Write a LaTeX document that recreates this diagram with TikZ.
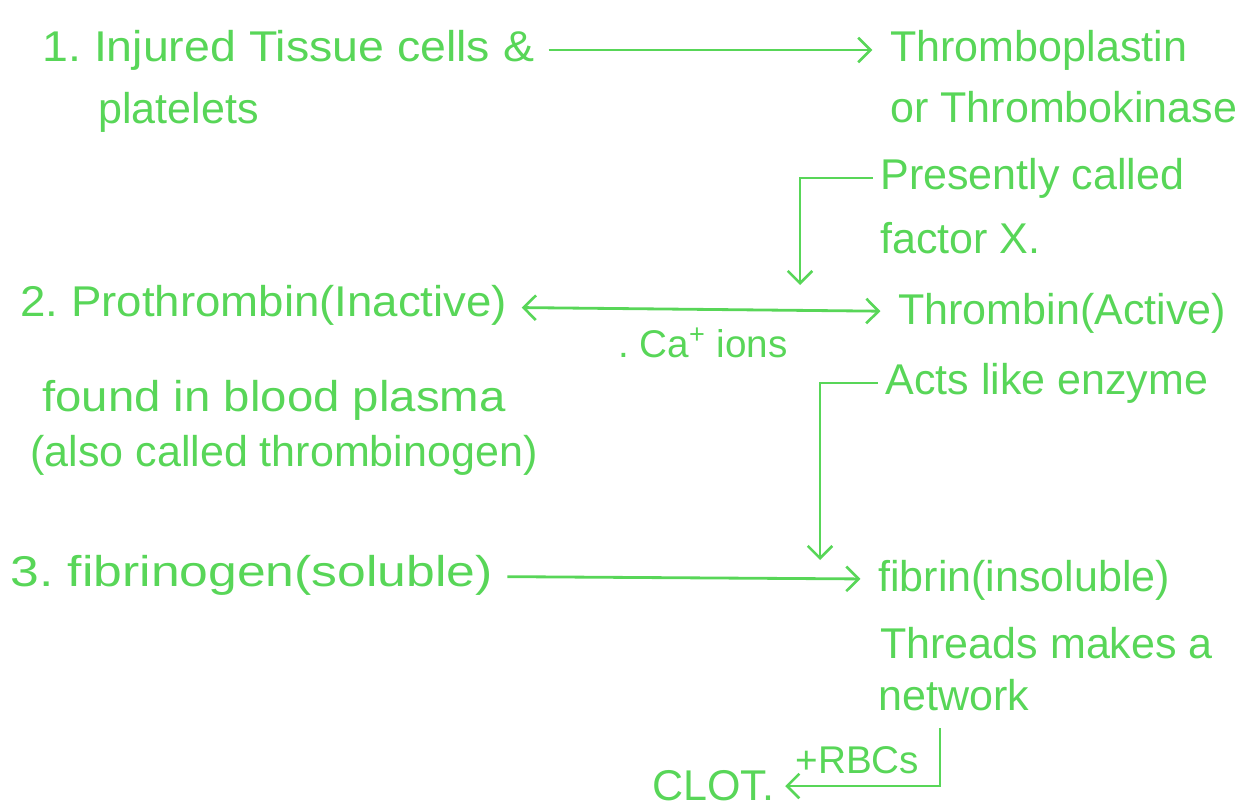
\documentclass[tikz,border=0pt]{standalone}
\usepackage{fontspec}
\setmainfont{Liberation Sans}
\usetikzlibrary{positioning, arrows, arrows.meta}
\definecolor{ink}{RGB}{88,214,88}
\tikzset{->,>={Straight Barb[length=7pt,width=14pt,line width=1.5pt]},
every note/.style={text=ink, anchor=west, inner sep=0pt, font=\fontsize{24.5}{30}\selectfont},
every link/.style={color=ink, line width=1.6pt, shorten >=10pt, shorten <=8pt},
wide/.style={xscale=#1, transform shape},
}
\newcommand{\ion}{\textsuperscript}

\begin{document}
\frenchspacing
\begin{tikzpicture}[x=0.02cm, y=-0.02cm]
\useasboundingbox (0,0) rectangle (1243,811);
    \node[every note, wide=1.08] (injured) at (42,50) {1. Injured Tissue cells \&};
    \node[every note] (platelets) at (98,112) {platelets};
    \node[every note] (plastin) at (890,50) {Thromboplastin};
    \node[every note] (kinase) at (890,107) {or Thrombokinase};
    \node[every note] (presently) at (880,178) {Presently called};
    \node[every note] (factor) at (880,238) {factor X.};

    \node[every note, wide=1.06] (prothrombin) at (20,305) {2. Prothrombin(Inactive)};
    \node[every note, wide=1.1] (plasma) at (42,400) {found in blood plasma};
    \node[every note] (thrombinogen) at (30,455) {(also called thrombinogen)};
    \node[every note] (thrombin) at (898,313) {Thrombin(Active)};
    \node[every note] (enzyme) at (885,383) {Acts like enzyme};

    \node[every note, wide=1.2] (fibrinogen) at (10,575) {3. fibrinogen(soluble)};
    \node[every note] (fibrin) at (878,580) {fibrin(insoluble)};
    \node[every note] (threads) at (880,643) {Threads makes a};
    \node[every note] (network) at (878,695) {network};
    \node[every note] (clot) at (652,786) {CLOT.};

    \coordinate (drop1) at (800,285);
    \coordinate (drop2) at (820,560);
    \coordinate (netdrop) at (940,728);

    \draw[every link]
    (injured) edge[] (plastin)
    (prothrombin) edge[<->] node[every note, anchor=north, yshift=-10pt, font=\fontsize{22}{26}\selectfont]{.\ Ca\ion{+} ions} (thrombin)
    (fibrinogen) edge[] (fibrin)
    ;
    \draw[every link, shorten <=4pt, shorten >=0pt] (presently.west) -| (drop1);
    \draw[every link, shorten <=4pt, shorten >=0pt] (enzyme.west) -| (drop2);
    \draw[every link, shorten <=0pt, shorten >=6pt] (netdrop) |- node[every note, pos=0.75, anchor=south, yshift=6pt, font=\fontsize{22}{26}\selectfont]{+RBCs} (clot.east);
\end{tikzpicture}
\end{document}
